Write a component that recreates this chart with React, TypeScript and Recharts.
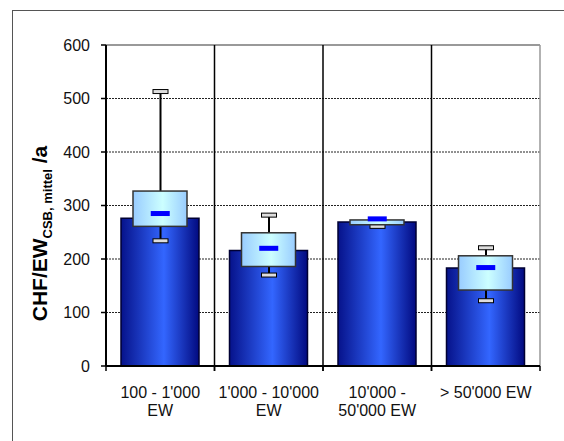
import {
  ComposedChart, Bar, Scatter, XAxis, YAxis, CartesianGrid, ReferenceLine,
} from 'recharts';

const categories = ["100 - 1'000\nEW", "1'000 - 10'000\nEW", "10'000 -\n50'000 EW", "> 50'000 EW"];
const barValues = [276, 216, 269, 183];
const boxLow = [261, 186, 264, 142];
const boxHigh = [327, 249, 273, 206];
const means = [285, 220, 275, 184];
const whiskerLow = [234, 170, 261, 122];
const whiskerHigh: (number | null)[] = [513, 282, null, 221];
const yTicks = [0, 100, 200, 300, 400, 500, 600];

const data = categories.map((name, i) => ({
  name,
  value: barValues[i],
  box: [boxLow[i], boxHigh[i]],
  whisker: [whiskerLow[i], whiskerHigh[i] ?? boxLow[i]],
  hasTop: whiskerHigh[i] != null,
  mean: means[i],
}));

const FONT = 'Arial, "Liberation Sans", sans-serif';

const BoxShape = (p: any) => (
  <rect x={p.x} y={p.y} width={p.width} height={p.height}
    fill="url(#boxGrad)" stroke="#333" strokeWidth={1.5} />
);

const WhiskerShape = (p: any) => {
  const cx = p.x + p.width / 2;
  const top = p.y;
  const bottom = p.y + p.height;
  return (
    <g>
      <line x1={cx} x2={cx} y1={top} y2={bottom} stroke="#000" strokeWidth={2} />
      {p.payload.hasTop && (
        <rect x={p.x} y={top - 2} width={p.width} height={4} fill="#ddd" stroke="#000" strokeWidth={1} />
      )}
      <rect x={p.x} y={bottom - 2} width={p.width} height={4} fill="#ddd" stroke="#000" strokeWidth={1} />
    </g>
  );
};

const MeanShape = (p: any) => (
  <rect x={p.cx - 9.5} y={p.cy - 2.5} width={19} height={5} fill="#0000ff" />
);

const XTick = (p: any) => {
  const lines = String(p.payload.value).split('\n');
  const off = p.payload.offset ?? 0;
  return (
    <g>
      <line x1={p.x - off} x2={p.x - off} y1={p.y} y2={p.y + 5} stroke="#000" strokeWidth={1.5} />
      <line x1={p.x + off} x2={p.x + off} y1={p.y} y2={p.y + 5} stroke="#000" strokeWidth={1.5} />
      {lines.map((l, i) => (
        <text key={i} x={p.x} y={p.y + 32 + i * 18} textAnchor="middle"
          fontSize={16} fontFamily={FONT} fill="#111">{l}</text>
      ))}
    </g>
  );
};

const YLabel = (p: any) => {
  const vb = p.viewBox;
  const x = vb.x + 47;
  const y = vb.y + vb.height / 2 + 28;
  return (
    <text x={x} y={y} transform={`rotate(-90, ${x}, ${y})`} textAnchor="middle"
      fontFamily={FONT} fontWeight="bold" fill="#000">
      <tspan fontSize={21}>CHF/EW</tspan>
      <tspan fontSize={13} dy={5}>CSB, mittel</tspan>
      <tspan fontSize={21} dy={-5}> /a</tspan>
    </text>
  );
};

export default function App() {
  return (
    <div style={{ position: 'relative', width: 564, height: 441, overflow: 'hidden', background: '#fff' }}>
      <style>{'html, body { margin: 0; overflow: hidden; }'}</style>
      <div style={{ position: 'absolute', left: 12, top: 10, width: 552, height: 1, background: '#555' }} />
      <div style={{ position: 'absolute', left: 12, top: 10, width: 1, height: 431, background: '#555' }} />
      <div style={{ position: 'absolute', left: 0, top: 0 }}>
        <ComposedChart width={564} height={441} data={data}
          margin={{ top: 45, right: 24, left: 0, bottom: 35 }}>
          <defs>
            <linearGradient id="barGrad" x1="0" y1="0" x2="1" y2="0">
              <stop offset="0%" stopColor="#06128a" />
              <stop offset="55%" stopColor="#3366ff" />
              <stop offset="100%" stopColor="#020a80" />
            </linearGradient>
            <linearGradient id="boxGrad" x1="0" y1="0" x2="1" y2="0">
              <stop offset="0%" stopColor="#99ccff" />
              <stop offset="55%" stopColor="#ccffff" />
              <stop offset="100%" stopColor="#99ccff" />
            </linearGradient>
          </defs>
          <CartesianGrid vertical={false} stroke="#222" strokeDasharray="2 1" xAxisId="a" />
          <XAxis xAxisId="a" dataKey="name" type="category" height={40}
            axisLine={{ stroke: '#000', strokeWidth: 2 }} tickLine={false}
            tickSize={0} tickMargin={0} tick={<XTick />} interval={0} />
          <XAxis xAxisId="b" dataKey="name" type="category" hide />
          <XAxis xAxisId="c" dataKey="name" type="category" hide />
          <XAxis xAxisId="d" dataKey="name" type="category" hide />
          <YAxis domain={[0, 600]} ticks={yTicks} width={106} tickSize={5} tickMargin={11}
            axisLine={{ stroke: '#000', strokeWidth: 2 }} tickLine={{ stroke: '#000', strokeWidth: 1.5 }}
            tick={{ fontSize: 16, fontFamily: FONT, fill: '#111' }}
            label={<YLabel />} />
          <ReferenceLine y={600} xAxisId="a" stroke="#999" strokeWidth={2} />
          {categories.map((c, i) => (
            <ReferenceLine key={c} x={c} xAxisId="a" position="end"
              stroke={i === categories.length - 1 ? '#999' : '#000'} strokeWidth={1.5} />
          ))}
          <Bar xAxisId="a" dataKey="value" barSize={78} fill="url(#barGrad)"
            stroke="#000033" strokeWidth={1.5} isAnimationActive={false} />
          <Bar xAxisId="b" dataKey="whisker" barSize={15} shape={<WhiskerShape />}
            isAnimationActive={false} />
          <Bar xAxisId="c" dataKey="box" barSize={54} shape={<BoxShape />}
            isAnimationActive={false} />
          <Scatter xAxisId="d" dataKey="mean" shape={<MeanShape />} isAnimationActive={false} />
        </ComposedChart>
      </div>
    </div>
  );
}
